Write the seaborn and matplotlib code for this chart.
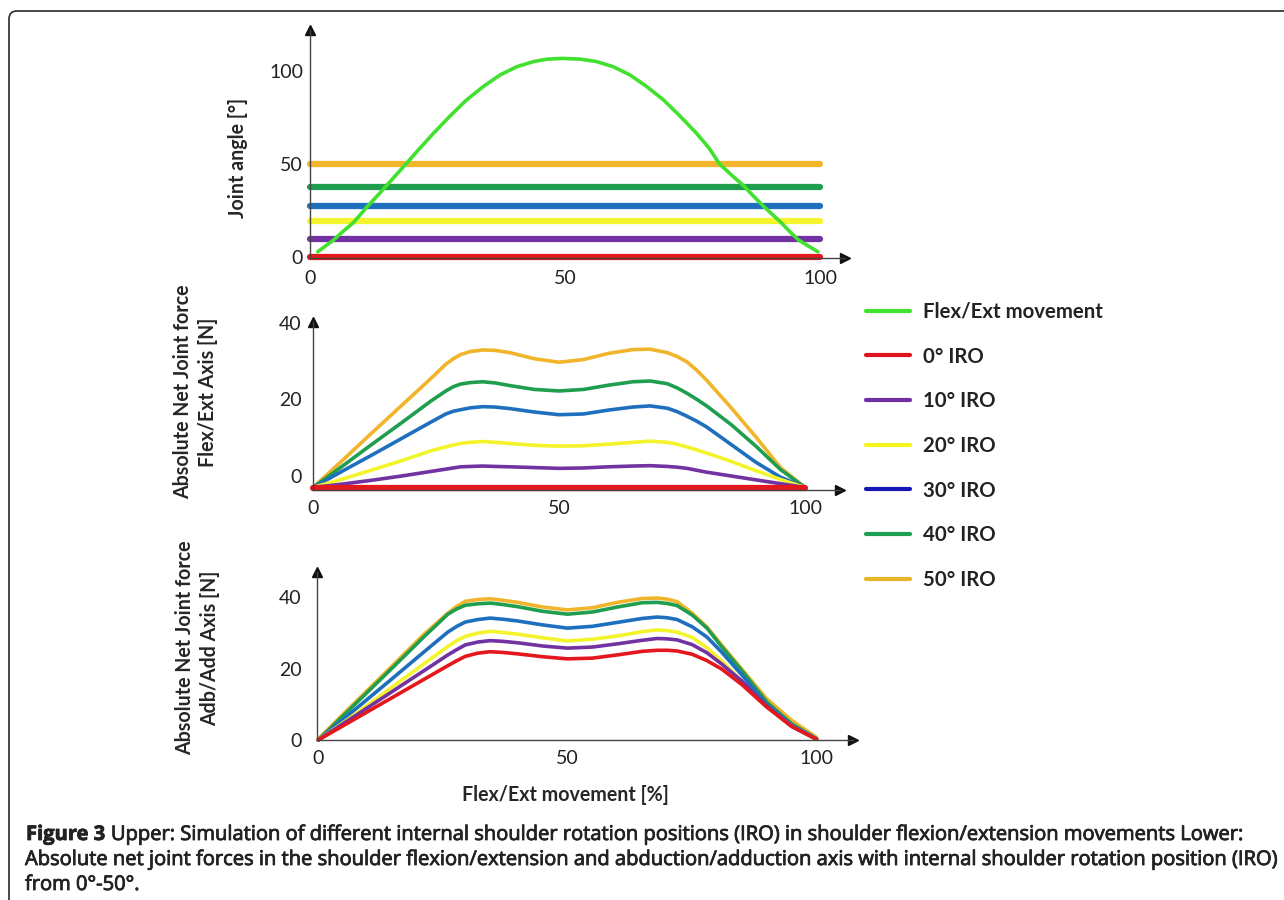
import matplotlib
matplotlib.use("Agg")
import pandas as pd
import matplotlib.pyplot as plt
import matplotlib.patheffects as pe
import seaborn as sns
from matplotlib.lines import Line2D
from matplotlib.patches import FancyBboxPatch
from matplotlib.transforms import IdentityTransform

# ---- values ----
# upper panel: joint angle [deg] over the flex/ext movement [%]
flex_x = [1.5, 4.6, 6.5, 8.5, 11.4, 13.2, 15.0, 18.8, 21.5, 24.2, 27.5, 30.7,
          34.0, 37.3, 40.5, 43.8, 46.5, 49.5, 53.0, 56.2, 59.5, 62.7, 66.0,
          69.3, 72.5, 75.8, 78.3, 80.3, 82.7, 85.0, 86.9, 88.8, 92.4, 94.0,
          95.8, 99.6]
flex_y = [3.0, 9.3, 14.0, 18.6, 27.7, 33.0, 38.4, 50.0, 58.3, 66.4, 75.8, 84.3,
          91.5, 97.7, 102.0, 104.8, 106.1, 106.5, 106.1, 104.8, 102.0, 97.7, 91.5,
          84.3, 75.8, 66.4, 58.3, 50.0, 44.0, 38.4, 33.0, 27.7, 18.6, 14.0,
          9.3, 3.0]

iro_names = ["0° IRO", "10° IRO", "20° IRO", "30° IRO", "40° IRO", "50° IRO"]
iro_level = [0.0, 9.6, 19.3, 27.7, 37.9, 50.0]
iro_span = [0, 100]

# middle panel: absolute net joint force, flex/ext axis [N]
mid_x = [0, 6, 12, 18, 24, 27, 28.5, 30, 32, 34.5, 37, 40, 45, 50, 55, 60, 65,
         68.5, 72, 74, 76, 78, 80, 85, 90, 95, 100]
mid_iro0 = [-3.0] * 27
mid_iro10 = [-3.0, -2.1, -1.1, 0.0, 1.2, 1.8, 2.1, 2.4, 2.5, 2.6, 2.5, 2.4, 2.2,
             2.0, 2.1, 2.4, 2.6, 2.7, 2.5, 2.3, 2.0, 1.5, 1.0, 0.0, -1.0, -2.0, -3.0]
mid_iro20 = [-3.0, -0.8, 1.6, 4.0, 6.6, 7.6, 8.1, 8.5, 8.8, 9.0, 8.8, 8.5, 8.0,
             7.8, 7.9, 8.3, 8.8, 9.1, 8.8, 8.3, 7.6, 6.8, 6.0, 3.8, 1.4, -0.9, -3.0]
mid_iro30 = [-3.0, 1.3, 5.5, 9.8, 14.1, 16.2, 16.9, 17.3, 17.8, 18.1, 18.0, 17.6,
             16.7, 16.0, 16.2, 17.2, 18.0, 18.3, 17.7, 16.8, 15.6, 14.3, 12.8,
             8.2, 3.6, -0.3, -3.0]
mid_iro40 = [-3.0, 2.6, 8.3, 13.9, 19.6, 22.2, 23.3, 24.0, 24.4, 24.6, 24.3, 23.6,
             22.6, 22.2, 22.6, 23.7, 24.6, 24.8, 24.1, 23.0, 21.6, 20.0, 18.3,
             13.4, 7.8, 1.7, -3.0]
mid_iro50 = [-3.0, 4.1, 11.3, 18.4, 25.5, 29.2, 30.6, 31.7, 32.5, 32.9, 32.8, 32.2,
             30.6, 29.7, 30.4, 32.0, 33.0, 33.1, 32.2, 31.2, 29.8, 27.6, 25.0,
             17.8, 10.2, 2.2, -3.0]

# lower panel: absolute net joint force, adb/add axis [N]
low_x = [0, 7, 14, 21, 26, 27.8, 29.5, 32, 34.5, 37, 40, 45, 50, 55, 60, 65, 68,
         70, 72, 75, 78, 81, 85, 90, 95, 100]
low_iro0 = [0.0, 5.6, 11.2, 16.8, 20.8, 22.2, 23.4, 24.3, 24.7, 24.5, 24.1, 23.3,
            22.7, 22.9, 23.8, 24.8, 25.1, 25.1, 24.9, 24.0, 22.2, 19.8, 15.5,
            9.2, 3.8, 0.2]
low_iro10 = [0.0, 6.4, 12.8, 19.2, 23.8, 25.3, 26.6, 27.4, 27.8, 27.6, 27.2, 26.3,
             25.7, 26.0, 26.9, 27.9, 28.4, 28.3, 28.0, 26.7, 24.4, 21.2, 16.5,
             9.5, 3.8, 0.2]
low_iro20 = [0.0, 6.8, 14.0, 21.1, 26.2, 27.8, 29.0, 29.9, 30.4, 30.1, 29.6, 28.6,
             27.7, 28.2, 29.1, 30.3, 30.8, 30.6, 30.2, 28.7, 25.8, 22.1, 16.4,
             9.3, 3.8, 0.2]
low_iro30 = [0.0, 8.1, 16.2, 24.4, 30.2, 31.8, 33.0, 33.7, 34.1, 33.8, 33.3, 32.2,
             31.3, 31.8, 32.9, 34.0, 34.4, 34.2, 33.7, 31.7, 28.8, 24.5, 18.2,
             9.9, 4.2, 0.3]
low_iro40 = [0.0, 9.5, 19.0, 28.6, 35.2, 36.7, 37.7, 38.1, 38.3, 37.9, 37.3, 36.0,
             35.2, 35.8, 37.2, 38.4, 38.5, 38.2, 37.6, 35.0, 31.3, 26.0, 19.4,
             10.6, 4.5, 0.3]
low_iro50 = [0.3, 10.0, 19.6, 29.3, 35.5, 37.4, 38.8, 39.3, 39.5, 39.1, 38.5, 37.2,
             36.4, 37.0, 38.5, 39.6, 39.7, 39.4, 38.7, 35.5, 31.6, 26.5, 19.8,
             11.5, 5.5, 0.7]

x_ticks = [0, 50, 100]
top_ticks = [0, 50, 100]
force_ticks = [0, 20, 40]

caption_bold = "Figure 3"
caption_1 = ("Upper: Simulation of different internal shoulder rotation positions "
             "(IRO) in shoulder flexion/extension movements Lower:")
caption_2 = ("Absolute net joint forces in the shoulder flexion/extension and "
             "abduction/adduction axis with internal shoulder rotation position (IRO)")
caption_3 = "from 0°-50°."

# colours
flex_color = "#42e02f"
line_colors = dict(zip(iro_names, ["#e3171c", "#7232a2", "#f4f42c",
                                   "#1f6fbf", "#1f9e4f", "#f0b52a"]))
legend_colors = dict(zip(iro_names, ["#e0141c", "#7030a0", "#f5f520",
                                     "#1717b5", "#1e9e50", "#e8b428"]))
draw_order = iro_names[::-1]
ink = "#222222"

W, H = 1284, 900


def long_frame(x, values):
    return pd.concat([pd.DataFrame({"x": x, "y": v, "IRO": n})
                      for n, v in zip(iro_names, values)], ignore_index=True)


top_df = pd.concat([pd.DataFrame({"x": iro_span, "y": [lv, lv], "IRO": n})
                    for n, lv in zip(iro_names, iro_level)], ignore_index=True)
mid_df = long_frame(mid_x, [mid_iro0, mid_iro10, mid_iro20, mid_iro30, mid_iro40, mid_iro50])
low_df = long_frame(low_x, [low_iro0, low_iro10, low_iro20, low_iro30, low_iro40, low_iro50])

sns.set_theme(style="white")
plt.rcParams["font.family"] = ["Lato", "DejaVu Sans"]
plt.rcParams["text.color"] = ink
plt.rcParams["lines.solid_joinstyle"] = "round"

fig = plt.figure(figsize=(W / 100, H / 100), dpi=100)
renderer = fig.canvas.get_renderer()

# caption body in the source is a semibold face, thicken the regular one a bit
semi = [pe.withStroke(linewidth=0.6, foreground=ink)]


def fit_size(text, target_px, **kw):
    t = fig.text(0, 0, text, fontsize=20, **kw)
    w = t.get_window_extent(renderer=renderer).width
    t.remove()
    return 20 * target_px / w


def px_axes(left, top, right, bottom):
    return fig.add_axes([left / W, 1 - bottom / H, (right - left) / W, (bottom - top) / H])


tick_size = 14
label_size = fit_size("Absolute Net Joint force", 215, fontweight="bold")
legend_size = fit_size("Flex/Ext movement", 180, fontweight="bold")
cap_font = ["Open Sans", "DejaVu Sans"]
cap_size = fit_size(caption_2, 1250, family=cap_font)


def style_axis(ax, xlim, ylim, yticks, xpad, ypad):
    ax.set_xlim(xlim)
    ax.set_ylim(ylim)
    ax.set_xticks(x_ticks)
    ax.set_yticks(yticks)
    sns.despine(ax=ax)
    for s in ["left", "bottom"]:
        ax.spines[s].set_color("#444444")
        ax.spines[s].set_linewidth(1.0)
    ax.tick_params(length=0, labelsize=tick_size, colors=ink)
    ax.tick_params(axis="x", pad=xpad)
    ax.tick_params(axis="y", pad=ypad)
    ax.set_xlabel("")
    ax.set_ylabel("")
    ax.patch.set_alpha(0)
    for ln in ax.lines:
        ln.set_clip_on(False)
    ax.plot(1, 0, ">", transform=ax.transAxes, clip_on=False, color="#111111", ms=7)
    ax.plot(0, 1, "^", transform=ax.transAxes, clip_on=False, color="#111111", ms=7)


# upper panel
ax_top = px_axes(310, 30, 845, 258)
sns.lineplot(data=top_df, x="x", y="y", hue="IRO", hue_order=draw_order,
             palette=line_colors, lw=4.5, legend=False, ax=ax_top)
sns.lineplot(x=flex_x, y=flex_y, color=flex_color, lw=2.6, ax=ax_top)
style_axis(ax_top, (0, 104.9), (-0.3, 121.7), top_ticks, 9, 5)
ax_top.set_ylabel("Joint angle [°]", fontsize=label_size, fontweight="bold",
                  va="center", ha="center")
ax_top.yaxis.set_label_coords((238 - 310) / 535, (258 - 158) / 228)

# middle panel
ax_mid = px_axes(313, 322, 840, 490)
sns.lineplot(data=mid_df[mid_df.IRO != "0° IRO"], x="x", y="y", hue="IRO",
             hue_order=draw_order[:-1], palette=line_colors, lw=2.6,
             legend=False, ax=ax_mid)
sns.lineplot(data=mid_df[mid_df.IRO == "0° IRO"], x="x", y="y",
             color=line_colors["0° IRO"], lw=4.5, ax=ax_mid)
style_axis(ax_mid, (0, 107.1), (-3.65, 40.2), force_ticks, 7, 8)
ax_mid.set_ylabel("Absolute Net Joint force\nFlex/Ext Axis [N]", fontsize=label_size,
                  fontweight="bold", va="center", ha="center", linespacing=1.3)
ax_mid.yaxis.set_label_coords((196 - 313) / 527, (490 - 392) / 168)

# lower panel
ax_low = px_axes(317, 572, 853, 740)
sns.lineplot(data=low_df, x="x", y="y", hue="IRO", hue_order=draw_order,
             palette=line_colors, lw=2.6, legend=False, ax=ax_low)
style_axis(ax_low, (-0.26, 107.3), (0, 47), force_ticks, 7, 11)
ax_low.set_ylabel("Absolute Net Joint force\nAdb/Add Axis [N]", fontsize=label_size,
                  fontweight="bold", va="center", ha="center", linespacing=1.3)
ax_low.yaxis.set_label_coords((198 - 317) / 536, (740 - 648) / 168)
ax_low.set_xlabel("Flex/Ext movement [%]", fontsize=label_size, fontweight="bold",
                  va="center", ha="center")
ax_low.xaxis.set_label_coords((565 - 317) / 536, (740 - 795) / 168)

# legend on the right
handles = [Line2D([], [], color=flex_color, lw=3)]
handles += [Line2D([], [], color=legend_colors[n], lw=3) for n in iro_names]
labels = ["Flex/Ext movement"] + iro_names
fpx = legend_size * 100 / 72
fig.legend(handles, labels, loc="upper left", bbox_to_anchor=(866 / W, 1 - 302 / H),
           frameon=False, borderpad=0, borderaxespad=0, handlelength=44 / fpx,
           handletextpad=13 / fpx, labelspacing=1.05 + 3.2 / fpx,
           prop={"weight": "bold", "size": legend_size})

# caption
t1 = fig.text(26 / W, 60 / H, caption_bold, fontsize=cap_size, fontweight="bold",
              family=cap_font, va="baseline", path_effects=semi)
w1 = t1.get_window_extent(renderer=renderer).width
fig.text((26 + w1 + 0.28 * cap_size * 100 / 72) / W, 60 / H, caption_1,
         fontsize=cap_size, family=cap_font, va="baseline", path_effects=semi)
fig.text(25 / W, 35 / H, caption_2, fontsize=cap_size, family=cap_font,
         va="baseline", path_effects=semi)
fig.text(25 / W, 10 / H, caption_3, fontsize=cap_size, family=cap_font,
         va="baseline", path_effects=semi)

# rounded frame around the figure, only its top-left corner is inside the image
frame = FancyBboxPatch((9, -100), 1500, 989, boxstyle="round,pad=0,rounding_size=8",
                       transform=IdentityTransform(), fill=False,
                       edgecolor="#2a2a2a", lw=1.2)
fig.add_artist(frame)

fig.savefig("out.png", dpi=100)
